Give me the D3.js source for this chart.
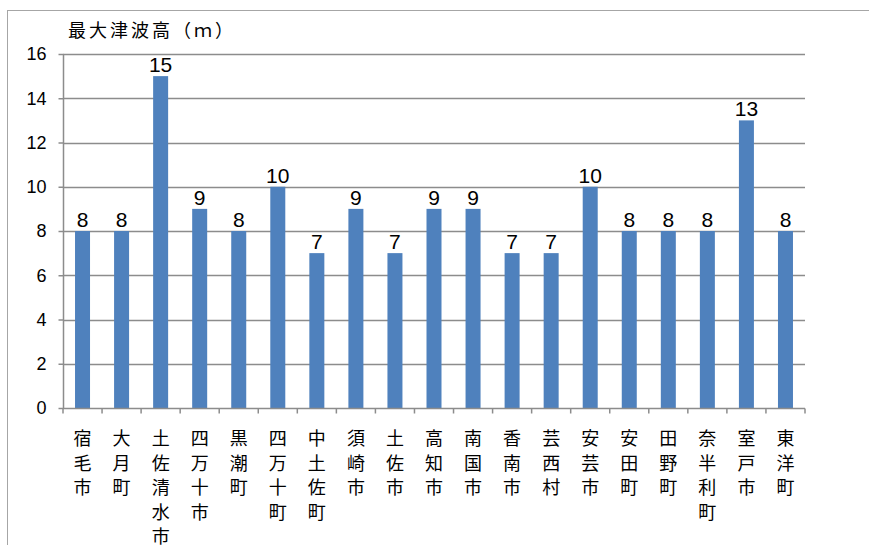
<!DOCTYPE html>
<html>
<head>
<meta charset="utf-8">
<script src="https://cdn.jsdelivr.net/npm/d3@7"></script>
<style>
body{margin:0;background:#fff;}
svg{display:block;font-family:"Liberation Sans",Arial,sans-serif;}
</style>
</head>
<body>
<svg id="chart" width="869" height="545"></svg>
<script>
var towns = ["宿毛市","大月町","土佐清水市","四万十市","黒潮町","四万十町","中土佐町","須崎市","土佐市","高知市","南国市","香南市","芸西村","安芸市","安田町","田野町","奈半利町","室戸市","東洋町"];
var heights = [8,8,15,9,8,10,7,9,7,9,9,7,7,10,8,8,8,13,8];
var yTicks = [0,2,4,6,8,10,12,14,16];
var title = "最大津波高（ｍ）";

var svg = d3.select("#chart");
var plotL = 63, plotR = 805, plotT = 54, plotB = 408;
var latin = "'Liberation Sans',sans-serif";
var cjk = "'Noto Sans CJK JP',sans-serif";

// outer frame
svg.append("rect")
    .attr("x",7.5).attr("y",10.5)
    .attr("width",900).attr("height",600)
    .attr("fill","none").attr("stroke","#a6a6a6").attr("stroke-width",1);

var x = d3.scaleBand().domain(towns).range([plotL,plotR]).paddingInner(0).paddingOuter(0);
var y = d3.scaleLinear().domain([0,16]).range([plotB,plotT]);

// gridlines
svg.append("g").selectAll("line")
    .data(yTicks.filter(function(d){return d>0;}))
    .enter().append("line")
    .attr("x1",plotL).attr("x2",plotR)
    .attr("y1",function(d){return Math.round(y(d))+0.5;})
    .attr("y2",function(d){return Math.round(y(d))+0.5;})
    .attr("stroke","#8c8c8c").attr("stroke-width",1.5);

// bars
var bw = 15;
svg.append("g").selectAll("rect")
    .data(heights)
    .enter().append("rect")
    .attr("x",function(d,i){return x(towns[i]) + x.bandwidth()/2 - bw/2;})
    .attr("y",function(d){return y(d);})
    .attr("width",bw)
    .attr("height",function(d){return plotB - y(d);})
    .attr("fill","#4f81bd");

// y axis
var yAxis = d3.axisLeft(y).tickValues(yTicks).tickSize(5).tickPadding(12);
var gy = svg.append("g").attr("transform","translate("+(plotL+0.5)+",0)").call(yAxis);
gy.select(".domain").attr("stroke","#8c8c8c").attr("stroke-width",1.5).attr("d","M0,"+plotT+"V"+plotB);
gy.selectAll(".tick line").attr("stroke","#8c8c8c").attr("stroke-width",1.5);
gy.selectAll(".tick text").attr("font-size",18).attr("fill","#000").attr("font-family",latin);

// x axis
var xAxis = d3.axisBottom(x).tickSize(0).tickFormat("");
var gx = svg.append("g").attr("transform","translate(0,"+(plotB+0.5)+")").call(xAxis);
gx.select(".domain").attr("stroke","#8c8c8c").attr("stroke-width",1.5).attr("d","M"+plotL+",0H"+plotR);
gx.selectAll(".sep").data(towns.concat(["end"])).enter().append("line")
    .attr("x1",function(d,i){return plotL + i*x.bandwidth();})
    .attr("x2",function(d,i){return plotL + i*x.bandwidth();})
    .attr("y1",0).attr("y2",5)
    .attr("stroke","#8c8c8c").attr("stroke-width",1.5);

// vertical category labels
var lab = svg.append("g").selectAll("text")
    .data(towns).enter().append("text")
    .attr("text-anchor","middle")
    .attr("font-size",18)
    .attr("font-family",cjk)
    .attr("fill","#000");
lab.each(function(d){
    var t = d3.select(this);
    var cx = x(d) + x.bandwidth()/2;
    d.split("").forEach(function(c,k){
        t.append("tspan").attr("x",cx).attr("y",445 + k*24.5).text(c);
    });
});

// value labels
svg.append("g").selectAll("text")
    .data(heights).enter().append("text")
    .attr("x",function(d,i){return x(towns[i]) + x.bandwidth()/2;})
    .attr("y",function(d){return y(d) - 4;})
    .attr("text-anchor","middle")
    .attr("font-size",21)
    .attr("font-family",latin)
    .attr("fill","#000")
    .text(function(d){return d;});

// title
svg.append("text")
    .attr("x",68).attr("y",37)
    .attr("font-size",18)
    .attr("letter-spacing",3)
    .attr("font-family",cjk)
    .attr("fill","#000")
    .text(title);
</script>
</body>
</html>
